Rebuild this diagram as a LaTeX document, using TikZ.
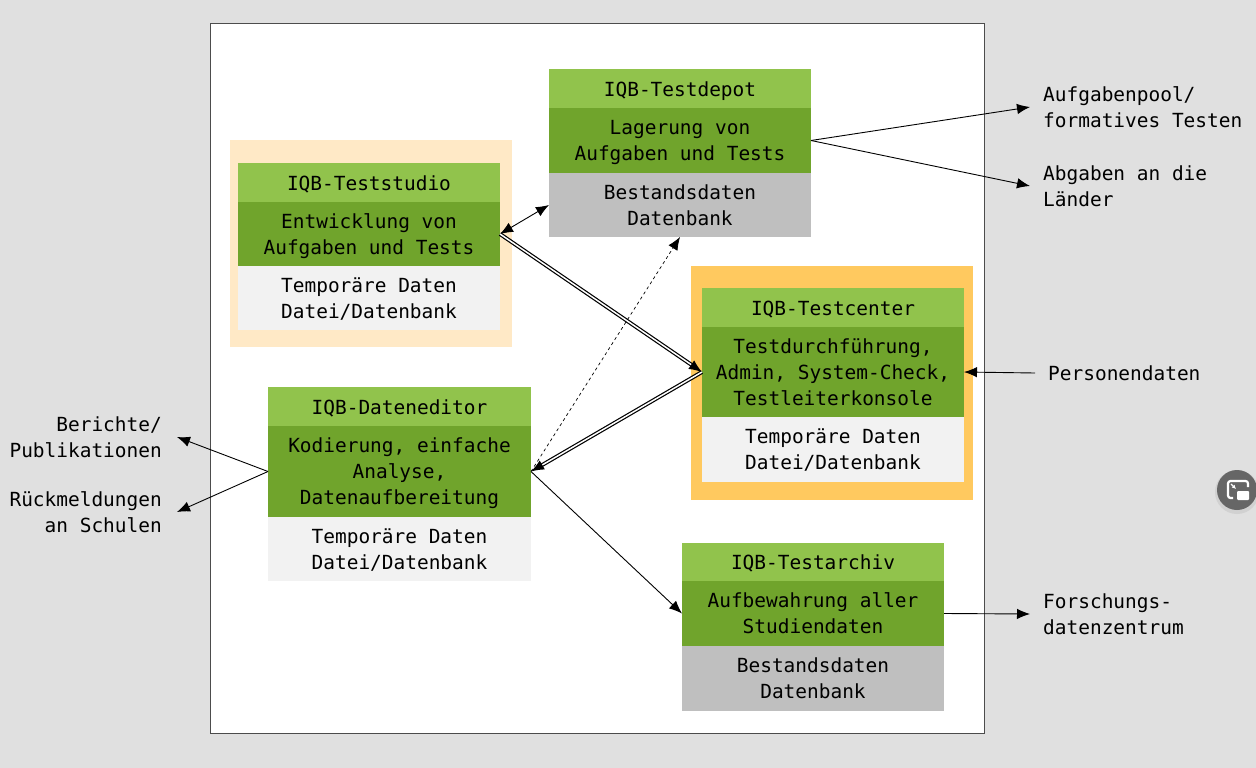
\documentclass[tikz,border=0pt]{standalone}
\usepackage{fontspec}
\setmainfont[WordSpace={1,0,0},PunctuationSpace=1]{DejaVu Sans Mono}
\frenchspacing
\usetikzlibrary{arrows.meta}
\definecolor{bgc}{HTML}{E0E0E0}
\definecolor{headc}{HTML}{91C34C}
\definecolor{midc}{HTML}{70A42C}
\definecolor{stockc}{HTML}{BFBFBF}
\definecolor{tempc}{HTML}{F2F2F2}
\definecolor{halolight}{HTML}{FFE9C6}
\definecolor{halostrong}{HTML}{FFC95F}
\tikzset{
  x=1pt,y=-1pt,
  txt/.style={font=\fontsize{19.45}{26}\selectfont,text=black,inner sep=0pt},
  cell/.style={txt,anchor=north west,minimum width=262pt,text width=262pt,align=center,outer sep=0pt,
    execute at begin node={\spaceskip=11.71pt\xspaceskip=11.71pt\rule{0pt}{21pt}},execute at end node={\rule[-6.3pt]{0pt}{0pt}}},
  head/.style={cell,fill=headc,minimum height=39pt,execute at begin node={\rule{0pt}{21.8pt}}},
  mid/.style={cell,fill=midc},
  stock/.style={cell,fill=stockc,minimum height=64pt},
  temp/.style={cell,fill=tempc,minimum height=64pt},
  halo/.style={anchor=north west,inner sep=0pt,outer sep=0pt},
  lblL/.style={txt,anchor=west,align=left,inner xsep=13pt,execute at begin node={\spaceskip=11.71pt\xspaceskip=11.71pt}},
  lblR/.style={txt,anchor=east,align=right,inner xsep=15pt,execute at begin node={\spaceskip=11.71pt\xspaceskip=11.71pt}},
  tip/.style={-{Latex[length=13pt,width=10.5pt]}},
  conn/.style={tip,line width=0.9pt,black},
  dbl/.style={tip,double,double distance=1.5pt,line width=1.2pt,black},
}
\begin{document}
\begin{tikzpicture}
\useasboundingbox (0,0) rectangle (1256,768);
\fill[bgc] (0,0) rectangle (1256,768);
\node[halo,fill=white,draw=black!70,line width=0.8pt,minimum width=774pt,minimum height=710pt] (frame) at (210,23) {};
\node[halo,fill=halolight,minimum width=282pt,minimum height=207pt] (studiohalo) at (230,140) {};
\node[halo,fill=halostrong,minimum width=282pt,minimum height=234pt] (centerhalo) at (691,266) {};

\node[head] (depotH) at (549,69) {IQB-Testdepot};
\node[mid,minimum height=65pt] (depotM) at (549,108) {Lagerung von\\Aufgaben und Tests};
\node[stock] (depotB) at (549,173) {Bestandsdaten\\Datenbank};

\node[head] (studioH) at (238,163) {IQB-Teststudio};
\node[mid,minimum height=64pt] (studioM) at (238,202) {Entwicklung von\\Aufgaben und Tests};
\node[temp] (studioB) at (238,266) {Temporäre Daten\\Datei/Datenbank};

\node[head] (centerH) at (702,288) {IQB-Testcenter};
\node[mid,minimum height=90pt] (centerM) at (702,327) {Testdurchführung,\\Admin, System-Check,\\Testleiterkonsole};
\node[temp,minimum height=65pt] (centerB) at (702,417) {Temporäre Daten\\Datei/Datenbank};

\node[head,minimum width=263pt,text width=263pt] (editorH) at (268,387) {IQB-Dateneditor};
\node[mid,minimum width=263pt,text width=263pt,minimum height=91pt] (editorM) at (268,426) {Kodierung, einfache\\Analyse,\\Datenaufbereitung};
\node[temp,minimum width=263pt,text width=263pt] (editorB) at (268,517) {Temporäre Daten\\Datei/Datenbank};

\node[head,minimum height=38pt] (archiveH) at (682,543) {IQB-Testarchiv};
\node[mid,minimum height=65pt] (archiveM) at (682,581) {Aufbewahrung aller\\Studiendaten};
\node[stock,minimum height=65pt] (archiveB) at (682,646) {Bestandsdaten\\Datenbank};

\node[lblL] (pool) at (1030,107) {Aufgabenpool/\\formatives Testen};
\node[lblL] (abgaben) at (1030,186) {Abgaben an die\\Länder};
\node[lblL] (personen) at (1035,373) {Personendaten};
\node[lblL] (forschung) at (1030,614) {Forschungs-\\datenzentrum};
\node[lblR] (berichte) at (177,437) {Berichte/\\Publikationen};
\node[lblR] (rueck) at (177,512) {Rückmeldungen\\an Schulen};

\draw[conn] (depotM.east) -- (pool.west);
\draw[conn] (depotM.east) -- (abgaben.west);
\draw[conn] (personen.west) -- (centerM.east);
\draw[conn] (archiveM.east) -- (forschung.west);
\draw[conn] (editorM.west) -- (berichte.east);
\draw[conn] (editorM.west) -- (rueck.east);
\draw[conn] (editorM.east) -- (archiveM.west);
\draw[conn,{Latex[length=13pt,width=10.5pt]}-{Latex[length=13pt,width=10.5pt]}] (studioM.east) -- (depotB.west);
\draw[conn,dashed,line width=0.7pt] (editorM.east) -- (depotB.south);
\draw[dbl] (studioM.east) -- (centerM.west);
\draw[dbl] (centerM.west) -- (editorM.east);

% picture-in-picture button
\fill[black!18] (1237,492) circle (22);
\fill[black!60] (1237,490) circle (20);
\draw[white,line width=2.2pt,rounded corners=2.5pt] (1241,481) -- (1228,481) -- (1228,498) -- (1233,498);
\draw[white,line width=2.2pt,rounded corners=2.5pt] (1241,481) -- (1248,481) -- (1248,487);
\fill[white,rounded corners=1pt] (1237,491) rectangle (1249,500);
\draw[white,line width=1.2pt,-{Latex[length=4pt,width=4pt]}] (1231,484) -- (1236,489);
\end{tikzpicture}
\end{document}
